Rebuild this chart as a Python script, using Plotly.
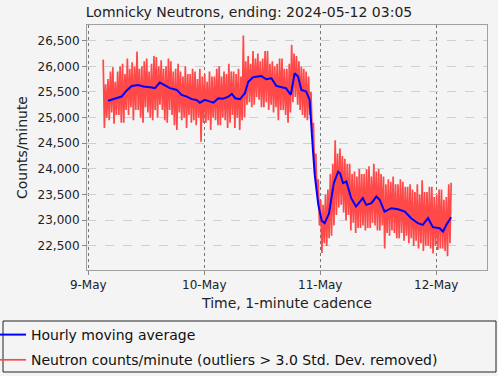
import plotly.graph_objects as go
import pandas as pd

title_text = "Lomnicky Neutrons, ending: 2024-05-12 03:05"
y_title = "Counts/minute"
x_title = "Time, 1-minute cadence"
blue_name = "Hourly moving average"
red_name = "Neutron counts/minute (outliers > 3.0 Std. Dev. removed)"

# Minute counts (read at ~15 min steps from the picture), starting 2024-05-09 03:05
red_start = "2024-05-09 03:05"
red_values = [
    26130, 24800, 25650, 25000,  25750, 24950, 25900, 25100,
    25980, 24880, 25700, 25050,  25900, 25050, 26000, 24900,
    26050, 24900, 25850, 25150,  26150, 25050, 25950, 25200,
    26080, 24950, 26000, 25150,  26290, 25150, 25950, 25000,
    26000, 24900, 26100, 25200,  26150, 25100, 25900, 25000,
    26050, 24950, 26200, 25150,  26180, 25000, 26000, 25250,
    26120, 25150, 25950, 24950,  26000, 24900, 26150, 25150,
    26100, 25050, 25900, 24850,  25950, 24760, 26050, 25100,
    25900, 24950, 25800, 25000,  26000, 24800, 25850, 25050,
    25850, 24900, 25950, 24950,  25900, 24850, 25750, 25000,
    25950, 24530, 25800, 24900,  25850, 24900, 25700, 24950,
    25900, 24760, 25800, 25000,  25800, 24950, 25950, 24850,
    26000, 24850, 25800, 25000,  25900, 24950, 25850, 24800,
    26050, 24900, 25900, 25050,  25900, 24800, 25850, 25000,
    25950, 24760, 25800, 24950,  26600, 25000, 26100, 25250,
    26200, 25300, 26050, 25200,  26300, 25250, 26150, 25400,
    26250, 25350, 26100, 25200,  26150, 25200, 26300, 25300,
    26300, 25150, 26050, 25250,  26100, 25100, 26000, 25200,
    26050, 24950, 26150, 25150,  26150, 25150, 25950, 25050,
    25950, 24900, 26050, 25100,  26420, 25300, 26250, 25400,
    26200, 25250, 26100, 25150,  26000, 25050, 25950, 25000,
    25900, 24950, 25800, 25050,  25500, 24700, 24900, 23900,
    24300, 23500, 23800, 22900,  23400, 22360, 23300, 22550,
    23500, 22500, 23600, 22650,  23900, 22700, 24100, 22900,
    24560, 23100, 24300, 23250,  24400, 23300, 24250, 23150,
    24200, 23000, 24100, 23100,  24100, 22800, 23900, 22950,
    23950, 22750, 23850, 22850,  24000, 22850, 23900, 22900,
    23900, 22800, 24000, 22850,  24050, 22850, 23850, 22950,
    24100, 22900, 23950, 22800,  24000, 22800, 23900, 22900,
    23850, 22450, 23700, 22750,  23800, 22700, 23750, 22800,
    23850, 22750, 23700, 22650,  23700, 22650, 23800, 22750,
    23750, 22600, 23650, 22700,  23650, 22550, 23700, 22650,
    23600, 22500, 23550, 22600,  23700, 22450, 23500, 22550,
    23780, 22400, 23550, 22500,  23550, 22500, 23650, 22450,
    23650, 22350, 23450, 22500,  23500, 22420, 23600, 22450,
    23600, 22450, 23400, 22400,  23450, 22300, 23700, 22550,
    23730,
]

# Hourly moving average: hours after 2024-05-09 00:00 and values
blue_base = "2024-05-09 00:00"
blue_hours = [
    4.1, 5.5, 6.9, 7.9, 9.0, 10.3, 11.4, 12.8, 13.8, 14.8, 15.9, 16.9, 18.3,
    19.3, 20.4, 21.4, 22.4, 23.1, 24.1, 25.2, 25.9, 26.9, 27.9, 29.0, 29.7,
    30.4, 31.4, 32.4, 33.1, 34.1, 35.8, 36.8, 37.9, 38.9, 39.9, 40.9, 41.9,
    42.7, 43.4, 44.1, 45.1, 45.8, 46.5, 46.9, 47.6, 48.3, 48.9, 49.8, 50.8,
    51.7, 52.1, 52.7, 53.4, 54.4, 55.4, 56.8, 57.5, 58.6, 59.6, 60.3, 61.3,
    62.7, 64.1, 65.5, 66.8, 68.2, 69.2, 70.3, 71.3, 72.7, 73.4, 74.1, 75.08,
]
blue_values = [
    25330, 25365, 25410, 25525, 25618, 25637, 25605, 25590, 25575, 25682, 25618,
    25575, 25540, 25442, 25410, 25360, 25345, 25290, 25345, 25310, 25290, 25378,
    25370, 25410, 25462, 25378, 25360, 25475, 25700, 25787, 25812, 25748, 25767,
    25618, 25592, 25574, 25442, 25865, 25800, 25540, 25506, 25345, 24340, 23850,
    23300, 22990, 22945, 23130, 23722, 23948, 23916, 23722, 23754, 23430, 23266,
    23430, 23300, 23333, 23461, 23397, 23168, 23235, 23215, 23168, 23040, 22942,
    22910, 23040, 22865, 22845, 22779, 22910, 23060,
]

y_ticks = [22500, 23000, 23500, 24000, 24500, 25000, 25500, 26000, 26500]
x_ticks = ["2024-05-09", "2024-05-10", "2024-05-11", "2024-05-12"]
x_tick_labels = ["9-May", "10-May", "11-May", "12-May"]

red_times = pd.date_range(red_start, periods=len(red_values), freq="15min")
blue_times = pd.Timestamp(blue_base) + pd.to_timedelta(blue_hours, unit="h")

FONT = "DejaVu Sans"
BG = "#f4f4f4"
L, R, T, B = 87, 487, 25, 270
PW, PH = R - L, B - T

fig = go.Figure()
fig.add_trace(go.Scatter(
    x=red_times, y=red_values, mode="lines", name=red_name,
    line=dict(color="#ff4848", width=1.7), legendrank=2, legendgroup="r",
))
fig.add_trace(go.Scatter(
    x=blue_times, y=blue_values, mode="lines", name=blue_name,
    line=dict(color="#0000ff", width=2), legendrank=1, legendgroup="b",
))

fig.update_layout(
    width=498, height=376,
    margin=dict(l=L, r=498 - R, t=T, b=376 - B, autoexpand=False),
    paper_bgcolor=BG, plot_bgcolor=BG,
    font=dict(family=FONT, size=12, color="#222222"),
    title=dict(text=title_text, x=0.5, xanchor="center", xref="container",
               y=1 - 12 / 376, yanchor="middle", yref="container",
               font=dict(family=FONT, size=14, color="#222222")),
    showlegend=True,
    legend=dict(
        x=(-9 - L) / PW, y=(B - 319) / PH, xanchor="left", yanchor="top",
        bgcolor="rgba(0,0,0,0)", borderwidth=0,
        font=dict(family=FONT, size=14, color="#111111"),
        tracegroupgap=4, traceorder="grouped",
    ),
    shapes=[dict(type="rect", xref="paper", yref="paper",
                 x0=(3 - L) / PW, x1=(496 - L) / PW,
                 y0=(B - 372) / PH, y1=(B - 321) / PH,
                 line=dict(color="#222222", width=1), fillcolor="rgba(0,0,0,0)")],
)

fig.update_xaxes(
    range=["2024-05-08 23:44", "2024-05-12 10:30"],
    tickvals=x_ticks, ticktext=x_tick_labels,
    tickfont=dict(size=12, color="#222222"),
    ticks="outside", ticklen=4, tickcolor="#888888",
    showgrid=True, gridcolor="#777777", griddash="dot", gridwidth=1,
    showline=True, linecolor="#a0a0a0", mirror=True, linewidth=1,
    zeroline=False, automargin=False,
    title=dict(text=x_title, font=dict(size=14, color="#222222"), standoff=6),
)
fig.update_yaxes(
    range=[22030, 26805],
    tickvals=y_ticks, tickformat=",d",
    tickfont=dict(size=12, color="#222222"),
    ticks="outside", ticklen=4, tickcolor="#888888",
    showgrid=True, gridcolor="#d0d0d0", griddash="dash", gridwidth=1,
    showline=True, linecolor="#a0a0a0", mirror=True, linewidth=1,
    zeroline=False, automargin=False,
    title=dict(text=y_title, font=dict(size=14, color="#222222"), standoff=6),
)

fig.write_html(
    "out.html",
    config={"displayModeBar": False},
    post_script="document.body.style.margin='0';document.body.style.overflow='hidden';",
)
